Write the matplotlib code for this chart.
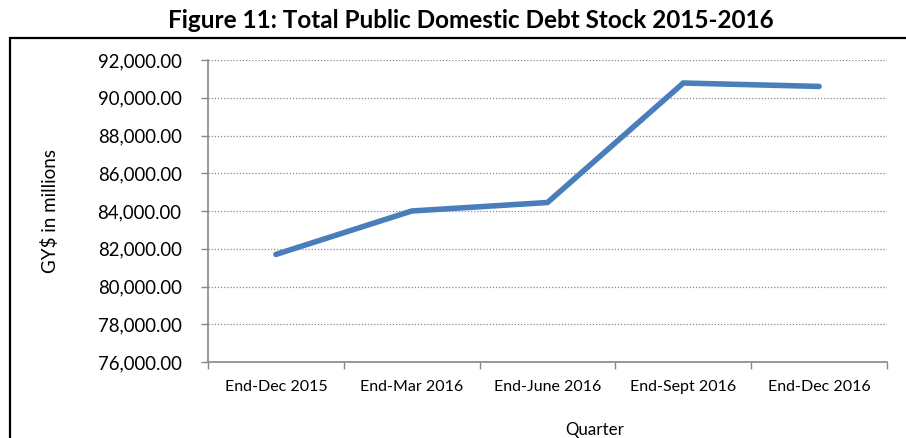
import matplotlib.pyplot as plt
from matplotlib.patches import Rectangle
from matplotlib.ticker import FuncFormatter, MultipleLocator

# values (GY$ millions)
quarters = ['End-Dec 2015', 'End-Mar 2016', 'End-June 2016', 'End-Sept 2016', 'End-Dec 2016']
debt = [81700, 84000, 84450, 90780, 90600]

plt.rcParams['font.family'] = ['Lato', 'DejaVu Sans']

fig = plt.figure(figsize=[9.06, 4.38], dpi=100)
W, H = 906, 438

# frame around the chart
fig.patches.append(Rectangle((10 / W, -0.05), 1.0, 1 - 38 / H + 0.05, transform=fig.transFigure,
                             fill=False, edgecolor='black', linewidth=1.6, clip_on=False))

ax = fig.add_axes([208 / W, 1 - 362 / H, (887 - 208) / W, (362 - 60) / H])

x = list(range(len(quarters)))
ax.plot(x, debt, color='#4a7ebb', linewidth=4.0, solid_capstyle='round', solid_joinstyle='miter')

ax.set_xlim(-0.5, len(quarters) - 0.5)
ax.set_ylim(76000, 92000)
ax.yaxis.set_major_locator(MultipleLocator(2000))
ax.yaxis.set_major_formatter(FuncFormatter(lambda v, p: f'{v:,.2f}'))
ax.grid(axis='y', color='#888888', linestyle=(0, (1, 1.5)), linewidth=0.9)

# category labels between boundary ticks
ax.set_xticks(x)
ax.set_xticklabels(quarters, fontsize=11.5)
ax.tick_params(axis='x', length=0, pad=13)
ax.set_xticks([i - 0.5 for i in range(len(quarters) + 1)], minor=True)
ax.tick_params(axis='x', which='minor', length=5, color='#888888', width=1)
ax.tick_params(axis='y', labelsize=13.4, length=5, color='#888888', width=1, pad=14)

for s in ['top', 'right']:
    ax.spines[s].set_visible(False)
for s in ['left', 'bottom']:
    ax.spines[s].set_color('#888888')
    ax.spines[s].set_linewidth(1.2)

fig.text(471 / W, 1 - 20 / H, 'Figure 11: Total Public Domestic Debt Stock 2015-2016',
         ha='center', va='center', fontsize=17.5, fontweight='bold')
fig.text(50 / W, 1 - 211 / H, 'GY$ in millions', rotation=90, ha='center', va='center', fontsize=13.5)
fig.text(595 / W, 1 - 430 / H, 'Quarter', ha='center', va='center', fontsize=12.2)

plt.savefig('out.png', dpi=100)
